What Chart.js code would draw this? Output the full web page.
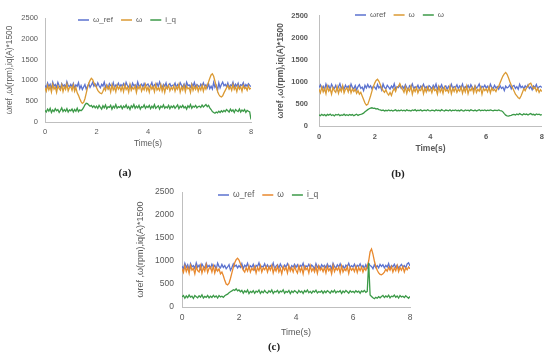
<!DOCTYPE html>
<html><head><meta charset="utf-8">
<script src="https://cdn.jsdelivr.net/npm/chart.js@4/dist/chart.umd.min.js"></script>
<style>
html,body{margin:0;padding:0;background:#fff;width:550px;height:357px;overflow:hidden;position:relative}
canvas{position:absolute}
.cap{position:absolute;font:bold 11px "Liberation Serif",serif;color:#222;transform:translate(-50%,-50%);white-space:nowrap}
</style></head><body>
<canvas id="ca" width="260" height="150" style="left:0px;top:0px;width:260px;height:150px"></canvas>
<canvas id="cb" width="275" height="155" style="left:275px;top:0px;width:275px;height:155px"></canvas>
<canvas id="cc" width="290" height="165" style="left:130px;top:176px;width:290px;height:165px"></canvas>
<div class="cap" style="left:125px;top:172px">(a)</div>
<div class="cap" style="left:398px;top:173px">(b)</div>
<div class="cap" style="left:274px;top:346px">(c)</div>
<script>
const times = [
0,0.05,0.1,0.15,0.2,0.25,0.3,0.35,0.4,0.45,0.5,0.55,0.6,0.65,0.7,0.75,0.8,0.85,0.9,0.95,
1,1.05,1.1,1.15,1.2,1.25,1.3,1.35,1.4,1.45,1.5,1.55,1.6,1.65,1.7,1.75,1.8,1.85,1.9,1.95,
2,2.05,2.1,2.15,2.2,2.25,2.3,2.35,2.4,2.45,2.5,2.55,2.6,2.65,2.7,2.75,2.8,2.85,2.9,2.95,
3,3.05,3.1,3.15,3.2,3.25,3.3,3.35,3.4,3.45,3.5,3.55,3.6,3.65,3.7,3.75,3.8,3.85,3.9,3.95,
4,4.05,4.1,4.15,4.2,4.25,4.3,4.35,4.4,4.45,4.5,4.55,4.6,4.65,4.7,4.75,4.8,4.85,4.9,4.95,
5,5.05,5.1,5.15,5.2,5.25,5.3,5.35,5.4,5.45,5.5,5.55,5.6,5.65,5.7,5.75,5.8,5.85,5.9,5.95,
6,6.05,6.1,6.15,6.2,6.25,6.3,6.35,6.4,6.45,6.5,6.55,6.6,6.65,6.7,6.75,6.8,6.85,6.9,6.95,
7,7.05,7.1,7.15,7.2,7.25,7.3,7.35,7.4,7.45,7.5,7.55,7.6,7.65,7.7,7.75,7.8,7.85,7.9,7.95,
8];

const yTitle = "ωref ,ω(rpm),iq(A)*1500";
const xTitle = "Time(s)";
const labelsA = ["ω_ref","ω","i_q"];
const labelsB = ["ωref","ω","ω"];
const labelsC = ["ω_ref","ω","i_q"];

const aRef = [
880,820,940,850,910,800,960,860,900,830,950,870,815,925,860,895,835,970,880,845,
905,850,930,815,890,860,945,800,875,780,840,900,790,860,920,830,890,950,860,910,
850,940,870,820,905,865,960,835,890,810,925,875,850,945,820,890,870,935,845,900,
860,920,830,955,880,840,900,815,935,870,895,825,960,860,880,910,840,925,855,890,
915,845,880,950,820,900,870,930,850,965,875,830,905,860,940,815,890,920,850,885,
870,935,825,900,860,945,880,840,910,820,955,875,890,835,920,860,950,845,900,870,
830,910,865,940,850,895,820,920,800,860,790,950,830,880,760,940,820,900,960,870,
905,850,940,820,890,870,955,840,910,860,930,815,895,875,945,830,900,860,920,880,
850];
const aW = [
820,740,880,770,850,720,900,790,840,710,870,800,760,890,730,850,780,910,750,830,
850,760,890,740,830,700,640,560,490,450,470,560,690,820,930,1000,1050,1020,940,880,
830,760,720,690,680,740,820,760,880,790,850,720,890,770,840,730,880,790,850,750,
860,730,890,780,840,720,900,760,830,790,870,710,850,800,880,740,830,770,900,760,
840,720,870,790,850,730,900,770,820,760,890,740,860,710,850,800,880,750,830,780,
870,740,850,790,900,720,840,770,880,730,860,800,820,710,890,760,850,780,870,740,
840,770,880,740,860,790,880,960,1050,1130,1160,1100,980,860,740,660,620,600,630,700,
760,820,880,790,850,760,900,780,840,730,870,790,850,740,880,800,830,760,870,790,
820];
const aIq = [
280,240,310,260,330,230,290,250,320,270,300,230,280,340,250,300,260,320,240,290,
270,310,240,300,260,330,250,290,270,300,350,410,450,440,410,380,400,350,390,340,
380,330,400,350,310,390,340,410,320,370,350,400,310,380,340,420,330,370,350,390,
320,380,350,410,330,370,300,390,350,420,330,380,340,400,310,370,350,410,330,380,
350,400,320,380,340,420,330,360,390,310,380,350,410,330,370,340,400,320,380,350,
390,330,370,410,320,380,350,400,340,370,310,390,350,420,330,380,360,400,340,370,
380,350,410,360,390,420,370,400,340,300,250,230,210,240,220,260,230,270,240,280,
250,300,270,240,310,260,290,230,300,270,250,310,240,290,260,300,230,280,260,240,
60];

const bRef = [
870,930,840,900,820,950,860,910,830,945,880,850,920,810,890,960,850,900,835,925,
860,905,830,950,870,840,915,820,890,935,850,880,800,920,860,940,870,910,840,900,
875,830,940,860,900,815,950,870,845,920,880,835,905,860,955,840,890,870,930,850,
900,845,935,870,820,910,880,950,840,890,860,925,830,905,875,945,855,890,820,915,
885,840,920,860,950,830,900,870,935,845,880,910,825,900,860,945,850,890,875,930,
840,905,870,950,830,890,860,920,845,935,875,820,910,860,890,950,840,900,870,925,
860,900,835,945,875,850,920,860,890,830,910,850,880,800,900,860,880,930,840,900,
920,850,890,830,945,870,900,840,910,865,930,850,890,820,905,870,940,845,885,900,
870];
const bW = [
830,750,880,770,850,730,900,790,840,720,870,800,760,890,740,850,780,910,750,830,
860,770,890,750,840,780,830,740,800,720,760,680,600,520,470,490,580,680,790,890,
970,1030,1060,1010,940,860,800,760,820,740,700,760,690,790,850,780,880,900,960,880,
830,760,880,740,850,790,900,720,840,780,870,750,830,800,890,730,850,770,880,790,
840,750,870,800,830,720,890,770,850,740,880,790,820,760,900,730,850,780,870,760,
830,790,880,740,860,770,900,730,840,800,870,750,890,760,830,790,880,720,850,800,
840,770,880,750,860,800,830,780,860,900,980,1060,1130,1180,1210,1170,1090,1000,920,860,
790,720,680,640,620,680,760,840,800,870,900,950,970,900,840,880,790,850,760,820,
780];
const bIq = [
250,235,265,240,258,230,262,245,270,238,255,228,260,248,266,235,252,242,268,240,
255,238,262,245,258,232,250,265,240,258,262,275,290,320,345,370,390,405,412,400,
405,385,392,372,365,348,360,338,355,342,362,345,358,338,352,365,340,356,345,362,
345,358,338,366,348,355,340,362,350,370,342,356,348,365,338,352,360,345,368,350,
342,360,352,338,365,348,356,342,370,350,338,362,355,345,368,340,358,350,364,345,
356,342,368,350,340,362,348,358,342,366,352,345,360,338,355,368,345,358,350,362,
345,360,348,365,352,342,360,355,348,362,350,345,320,280,245,228,222,235,240,255,
260,248,272,255,280,262,250,275,258,270,248,268,282,255,265,245,272,258,268,250,
258];

const cRef = [
890,830,950,860,920,815,945,870,900,840,960,865,910,825,935,880,850,950,870,905,
845,930,870,905,820,955,880,850,925,860,900,830,870,920,800,860,940,880,910,850,
900,860,945,830,910,875,950,840,895,865,930,820,905,880,960,850,890,870,940,855,
915,845,900,870,955,830,890,920,850,935,875,840,910,865,945,880,825,900,870,930,
860,920,845,905,880,950,835,895,870,930,855,910,880,825,945,865,900,840,920,875,
905,850,935,870,900,830,950,880,845,915,870,940,855,895,825,910,880,950,860,900,
870,930,845,905,880,940,860,900,835,920,850,945,900,880,830,920,860,900,850,925,
880,920,850,905,870,945,835,900,875,930,860,910,845,890,925,870,900,850,935,960,
890];
const cW = [
830,750,890,770,860,730,900,800,840,720,880,790,760,900,740,860,780,920,750,840,
870,760,890,740,850,780,830,720,760,680,580,500,480,520,620,740,860,960,1030,1060,
1020,940,870,800,760,850,780,890,760,840,800,880,740,860,790,900,760,850,810,880,
760,870,800,900,740,850,780,890,760,840,720,880,800,860,740,900,780,850,760,880,
800,740,890,770,860,720,880,810,850,740,900,780,840,760,870,730,890,800,850,770,
860,740,880,790,840,720,900,770,850,800,870,740,890,760,830,790,880,730,860,800,
840,770,880,750,860,790,870,760,850,800,880,1000,1200,1260,1150,1000,880,800,740,710,
700,720,760,820,780,860,800,880,760,850,790,900,770,860,800,880,760,850,810,870,
830];
const cIq = [
220,250,190,240,205,260,215,235,185,250,225,200,245,215,265,195,230,210,250,200,
235,205,255,215,240,195,250,220,235,210,245,265,280,310,330,350,375,360,395,350,
370,330,360,300,350,320,370,290,340,315,355,300,345,325,370,295,340,310,360,320,
300,350,320,370,295,340,325,360,305,345,330,375,300,340,320,360,290,345,315,355,
330,300,360,320,345,295,355,325,370,310,340,300,350,325,365,305,335,320,350,300,
345,310,355,330,300,350,320,365,305,340,325,355,295,345,315,360,330,300,350,320,
340,310,355,325,345,300,350,330,360,320,340,960,260,230,200,180,210,190,225,200,
230,250,205,240,215,255,200,235,225,260,210,240,195,250,220,235,205,245,215,190,
230];

const BLUE = '#5B72CF', ORANGE_AB = '#DB9A33', ORANGE_C = '#E8892E', GREEN = '#3C9A48';
const GREY = '#595959';

const legendLines = {
  id: 'legendLines',
  afterDraw(chart, args, o) {
    const ctx = chart.ctx;
    ctx.save();
    ctx.font = o.font;
    ctx.textBaseline = 'middle';
    let x = o.x;
    chart.data.datasets.forEach(ds => {
      ctx.strokeStyle = ds.borderColor; ctx.lineWidth = 1.5;
      ctx.beginPath(); ctx.moveTo(x, o.y); ctx.lineTo(x + o.line, o.y); ctx.stroke();
      x += o.line + o.gap;
      ctx.fillStyle = GREY; ctx.fillText(ds.label, x, o.y);
      x += ctx.measureText(ds.label).width + o.space;
    });
    ctx.restore();
  }
};

function make(id, labels, ref, w, iq, orange, P) {
  const font = {family: 'Liberation Sans, Arial, sans-serif', size: P.fs, weight: P.bold ? 'bold' : 'normal'};
  const tfont = {family: 'Liberation Sans, Arial, sans-serif', size: P.ts, weight: P.bold ? 'bold' : 'normal'};
  const mk = (lab, data, col, ord) => ({label: lab, data: data, borderColor: col, backgroundColor: col, borderWidth: 1.3, pointRadius: 0, tension: 0, order: ord});
  new Chart(document.getElementById(id), {
    type: 'line',
    data: {labels: times, datasets: [mk(labels[0], ref, BLUE, 2), mk(labels[1], w, orange, 1), mk(labels[2], iq, GREEN, 0)]},
    options: {
      responsive: false, animation: false, events: [],
      layout: {padding: {left: 0, right: P.pr, top: P.pt, bottom: 0}},
      plugins: {legend: {display: false}, tooltip: {enabled: false},
        legendLines: {x: P.lx, y: P.ly, font: P.lfont, line: 11, gap: 4, space: 8}},
      scales: {
        x: {type: 'linear', min: 0, max: 8,
          ticks: {stepSize: 2, padding: P.xtp, color: GREY, font: font, maxRotation: 0, callback: v => String(v)},
          grid: {display: false, drawTicks: false}, border: {display: true, color: '#BFBFBF'},
          title: {display: true, text: xTitle, color: GREY, font: tfont, padding: {top: 0, bottom: P.xtb}},
          afterFit(s) { s.height = P.xh; }},
        y: {min: 0, max: 2500,
          ticks: {stepSize: 500, padding: P.ytp, color: GREY, font: font, callback: v => String(v)},
          grid: {display: false, drawTicks: false}, border: {display: true, color: '#BFBFBF'},
          title: {display: true, text: yTitle, color: GREY, font: tfont, padding: {top: P.ytt, bottom: 0}},
          afterFit(s) { s.width = P.yw; }}
      }
    },
    plugins: [legendLines]
  });
}

make('ca', labelsA, aRef, aW, aIq, ORANGE_AB, {fs: 7.5, ts: 8.3, bold: false, pr: 9, pt: 18, xh: 28, xtp: 5, xtb: 1, ytp: 7, ytt: 5, yw: 45, lx: 78, ly: 20, lfont: '8px "Liberation Sans", Arial, sans-serif'});
make('cb', labelsB, bRef, bW, bIq, ORANGE_AB, {fs: 7.5, ts: 8.5, bold: true, pr: 8, pt: 14, xh: 29, xtp: 6, xtb: 1, ytp: 11, ytt: 1, yw: 44, lx: 80, ly: 15, lfont: '8px "Liberation Sans", Arial, sans-serif'});
make('cc', labelsC, cRef, cW, cIq, ORANGE_C, {fs: 8.5, ts: 9, bold: false, pr: 10, pt: 16, xh: 34, xtp: 6, xtb: 3, ytp: 8, ytt: 5, yw: 52, lx: 88, ly: 19, lfont: '8.5px "Liberation Sans", Arial, sans-serif'});
</script>
</body></html>
